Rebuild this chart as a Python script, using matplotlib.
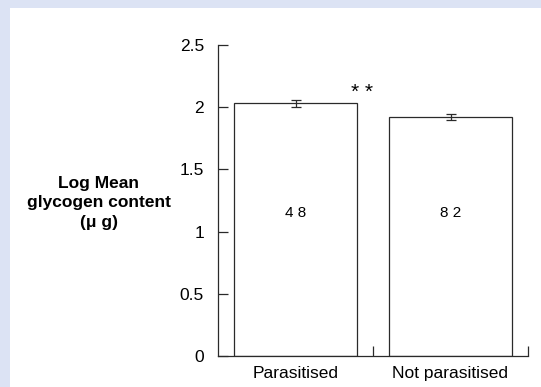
import matplotlib
matplotlib.use('Agg')
import matplotlib.pyplot as plt
from matplotlib.patches import Rectangle

plt.rcParams['font.family'] = ['Liberation Sans', 'DejaVu Sans']

# group means, standard errors and sample sizes
groups = ['Parasitised', 'Not parasitised']
means = [2.03, 1.92]
errors = [0.03, 0.022]
n_labels = ['4 8', '8 2']
sig_label = '* *'

fig = plt.figure(figsize=(5.41, 3.87), dpi=100)
fig.patch.set_facecolor('#dce3f4')
# white panel inside the pale border
fig.patches.append(Rectangle((10 / 541, 0), 1, 1 - 8 / 387, transform=fig.transFigure,
                             facecolor='white', edgecolor='none', zorder=-1))

ax = fig.add_axes([218 / 541, 1 - 356 / 387, 310 / 541, 311 / 387])
ax.set_facecolor('none')

ink = '#2a2a2a'
xpos = [0.5, 1.5]
ax.bar(xpos, means, width=0.795, facecolor='white', edgecolor=ink, linewidth=0.9)
ax.errorbar(xpos, means, yerr=errors, fmt='none', ecolor=ink, elinewidth=0.9,
            capsize=3.5, capthick=0.9)

for x, lab in zip(xpos, n_labels):
    ax.text(x, 1.15, lab, ha='center', va='center', fontsize=11, color='black')

ax.text(0.93, 2.12, sig_label, ha='center', va='center', fontsize=15, color='black')

ax.set_xlim(0, 2)
ax.set_ylim(0, 2.5)
ax.set_yticks([0, 0.5, 1, 1.5, 2, 2.5])
ax.set_yticklabels(['0', '0.5', '1', '1.5', '2', '2.5'])
ax.set_xticks([1, 2])
ax.set_xticklabels([])
ax.tick_params(axis='y', direction='in', length=7, width=0.9, colors=ink,
               labelcolor='black', labelsize=12.5, pad=10)
ax.tick_params(axis='x', direction='in', length=7, width=0.9, colors=ink)

for x, g in zip(xpos, groups):
    ax.text(x, -0.08, g, ha='center', va='top', fontsize=12.5, color='black')

for s in ['top', 'right']:
    ax.spines[s].set_visible(False)
for s in ['left', 'bottom']:
    ax.spines[s].set_color(ink)
    ax.spines[s].set_linewidth(0.9)

fig.text(99 / 541, 1 - 203 / 387, 'Log Mean\nglycogen content\n(\u03bc g)', ha='center',
         va='center', fontsize=12.5, fontweight='bold', linespacing=1.38)

fig.savefig('out.png', dpi=100)
